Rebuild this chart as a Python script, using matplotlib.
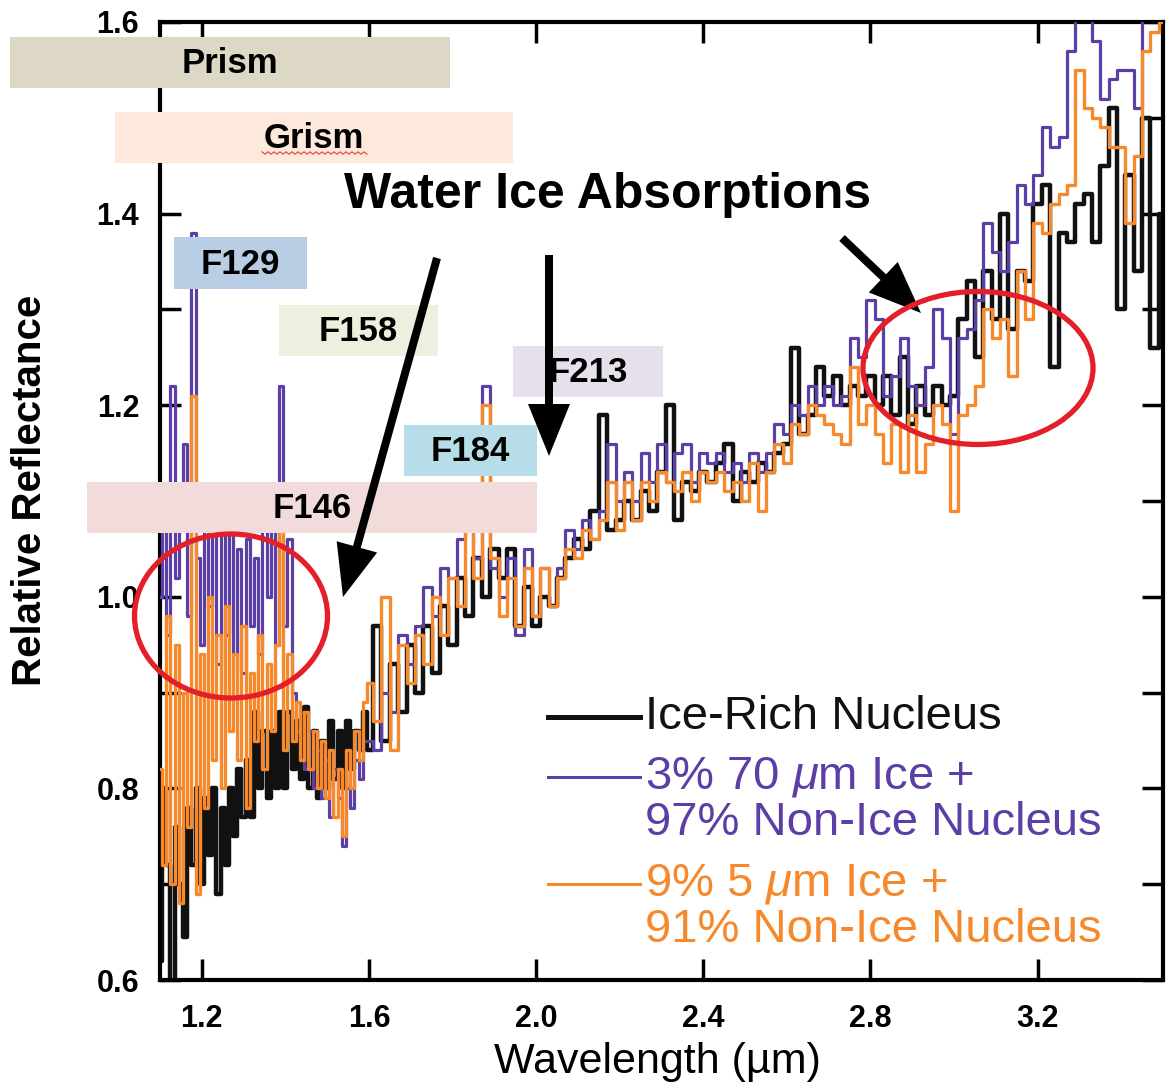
import numpy as np
import matplotlib
matplotlib.use('Agg')
import matplotlib.pyplot as plt
from matplotlib.patches import Rectangle, Ellipse, FancyArrow
from matplotlib.lines import Line2D
from matplotlib.transforms import Affine2D

plt.rcParams['font.family'] = ['Liberation Sans', 'DejaVu Sans']
plt.rcParams['mathtext.fontset'] = 'custom'
plt.rcParams['mathtext.it'] = 'Liberation Sans:italic'
plt.rcParams['mathtext.rm'] = 'Liberation Sans'

W, H = 1175, 1092

# wavelength grid of the spectra (um): 0.01 um bins below 1.6, 0.02 um above
wavelength = np.round(np.concatenate([np.arange(1.10, 1.595, 0.01),
                                      np.arange(1.60, 3.5001, 0.02)]), 2)

ice_rich = [
    # 1.10 - 1.59
    0.62, 0.80, 0.72, 0.58, 0.76, 0.70, 0.645, 0.78, 0.72, 0.80,
    0.70, 0.79, 0.73, 0.80, 0.69, 0.78, 0.72, 0.80, 0.75, 0.82,
    0.77, 0.83, 0.77, 0.88, 0.80, 0.86, 0.79, 0.86, 0.80, 0.88,
    0.80, 0.88, 0.82, 0.87, 0.81, 0.885, 0.80, 0.86, 0.79, 0.85,
    0.80, 0.87, 0.81, 0.86, 0.80, 0.87, 0.82, 0.86, 0.84, 0.88,
    # 1.60 - 3.50
    0.84, 0.97, 0.85, 0.93, 0.88,
    0.95, 0.90, 0.97, 0.92, 0.99, 0.95, 1.02, 0.98, 1.04, 1.00,
    1.05, 1.02, 1.05, 0.97, 1.01, 0.97, 1.00, 0.99, 1.02, 1.04,
    1.06, 1.05, 1.09, 1.19, 1.07, 1.08, 1.10, 1.08, 1.11, 1.09,
    1.13, 1.20, 1.08, 1.12, 1.11, 1.13, 1.12, 1.14, 1.16, 1.10,
    1.13, 1.12, 1.14, 1.13, 1.15, 1.16, 1.26, 1.17, 1.19, 1.24,
    1.21, 1.23, 1.20, 1.22, 1.21, 1.23, 1.20, 1.23, 1.19, 1.25,
    1.18, 1.22, 1.19, 1.22, 1.20, 1.21, 1.29, 1.33, 1.25, 1.34,
    1.29, 1.40, 1.28, 1.34, 1.33, 1.41, 1.43, 1.24, 1.38, 1.37,
    1.41, 1.42, 1.37, 1.45, 1.51, 1.30, 1.44, 1.34, 1.50, 1.26,
    1.40,
]

ice_70um = [
    # 1.10 - 1.59
    1.00, 1.08, 0.96, 1.22, 1.02, 1.10, 1.16, 0.98, 1.38, 1.04,
    0.95, 1.09, 0.99, 1.10, 0.93, 1.07, 0.96, 1.08, 0.94, 1.05,
    0.92, 1.06, 0.97, 1.04, 0.94, 1.08, 1.00, 1.09, 0.95, 1.22,
    0.97, 1.06, 0.90, 0.86, 0.88, 0.82, 0.86, 0.80, 0.84, 0.79,
    0.83, 0.77, 0.82, 0.79, 0.74, 0.80, 0.78, 0.83, 0.81, 0.85,
    # 1.60 - 3.50
    0.85, 0.84, 0.90, 0.88, 0.96,
    0.93, 0.97, 1.01, 0.98, 1.03, 1.02, 1.06, 1.08, 1.04, 1.22,
    1.03, 1.00, 1.04, 0.96, 1.05, 0.98, 1.03, 0.99, 1.03, 1.07,
    1.05, 1.08, 1.06, 1.09, 1.16, 1.10, 1.13, 1.10, 1.15, 1.12,
    1.16, 1.12, 1.15, 1.16, 1.12, 1.15, 1.14, 1.15, 1.13, 1.14,
    1.12, 1.15, 1.13, 1.15, 1.18, 1.17, 1.20, 1.19, 1.22, 1.20,
    1.22, 1.20, 1.21, 1.27, 1.25, 1.31, 1.29, 1.21, 1.23, 1.27,
    1.22, 1.20, 1.24, 1.30, 1.27, 1.17, 1.27, 1.28, 1.31, 1.39,
    1.36, 1.34, 1.37, 1.43, 1.41, 1.44, 1.49, 1.47, 1.48, 1.57,
    1.62, 1.64, 1.58, 1.52, 1.54, 1.55, 1.55, 1.51, 1.63, 1.66,
    1.64,
]

ice_5um = [
    # 1.10 - 1.59
    0.82, 0.72, 0.98, 0.70, 0.95, 0.68, 0.90, 0.76, 1.21, 0.69,
    0.94, 0.78, 1.00, 0.83, 0.96, 0.80, 0.99, 0.86, 0.94, 0.83,
    0.97, 0.78, 0.92, 0.85, 0.96, 0.82, 0.93, 0.86, 0.95, 1.10,
    0.84, 0.94, 0.85, 0.89, 0.83, 0.88, 0.82, 0.86, 0.80, 0.85,
    0.79, 0.84, 0.77, 0.82, 0.75, 0.84, 0.80, 0.86, 0.83, 0.89,
    # 1.60 - 3.50
    0.91, 0.87, 1.00, 0.84, 0.95,
    0.91, 0.96, 0.93, 1.00, 0.96, 1.02, 0.99, 1.10, 1.02, 1.20,
    1.04, 0.98, 1.02, 0.97, 1.03, 0.98, 1.03, 0.99, 1.02, 1.05,
    1.04, 1.07, 1.06, 1.08, 1.12, 1.07, 1.12, 1.08, 1.12, 1.10,
    1.13, 1.12, 1.11, 1.13, 1.10, 1.13, 1.12, 1.13, 1.11, 1.12,
    1.10, 1.14, 1.09, 1.13, 1.16, 1.14, 1.18, 1.17, 1.20, 1.19,
    1.18, 1.17, 1.16, 1.24, 1.18, 1.20, 1.17, 1.14, 1.18, 1.13,
    1.19, 1.13, 1.16, 1.20, 1.18, 1.09, 1.19, 1.20, 1.22, 1.30,
    1.27, 1.29, 1.23, 1.34, 1.29, 1.39, 1.38, 1.41, 1.42, 1.43,
    1.55, 1.51, 1.50, 1.49, 1.47, 1.47, 1.39, 1.46, 1.57, 1.59,
    1.60,
]

series_names = ['Ice-Rich Nucleus',
                '3% 70 $\\mu$m Ice +\n97% Non-Ice Nucleus',
                '9% 5 $\\mu$m Ice +\n91% Non-Ice Nucleus']

band_names = ['Prism', 'Grism', 'F129', 'F158', 'F213', 'F184', 'F146']

black = '#111111'
purple = '#5B3FA6'
orange = '#F5892B'
red = '#E3202A'

fig = plt.figure(figsize=(W / 100, H / 100), dpi=100)
ax = fig.add_axes([160 / W, 1 - 980 / H, (1163 - 160) / W, (980 - 22) / H])

# pixel coordinates of the picture, origin top-left
pix = Affine2D().scale(1 / W, -1 / H).translate(0, 1) + fig.transFigure

ax.plot(wavelength, ice_rich, drawstyle='steps-mid', color=black, lw=3.2, zorder=2)
ax.plot(wavelength, ice_70um, drawstyle='steps-mid', color=purple, lw=2.3, zorder=3)
ax.plot(wavelength, ice_5um, drawstyle='steps-mid', color=orange, lw=2.4, zorder=4)

ax.set_xlim(1.1, 3.5)
ax.set_ylim(0.6, 1.6)
ax.set_xticks([1.2, 1.6, 2.0, 2.4, 2.8, 3.2])
ax.set_yticks([0.6, 0.8, 1.0, 1.2, 1.4, 1.6])
ax.set_yticks([0.7, 0.9, 1.1, 1.3, 1.5], minor=True)
ax.set_xticklabels(['%.1f' % t for t in ax.get_xticks()])
ax.set_yticklabels(['%.1f' % t for t in ax.get_yticks()])
ax.tick_params(which='both', direction='in', top=True, right=True,
               length=15, width=2.5, labelsize=22)
ax.tick_params(axis='x', pad=17)
ax.tick_params(axis='y', pad=15)
for lbl in ax.get_xticklabels() + ax.get_yticklabels():
    lbl.set_fontweight('bold')
for sp in ax.spines.values():
    sp.set_linewidth(3)

fig.text(30 / W, 1 - 490 / H, 'Relative Reflectance', rotation=90,
         fontsize=29, fontweight='bold', ha='center', va='center')
fig.text(657 / W, 1 - 1062 / H, 'Wavelength (\u00b5m)', fontsize=31,
         ha='center', va='center')

# filter / mode boxes, pixel layout (x0, y0, x1, y1)
band_boxes = [(10, 37, 450, 88), (115, 112, 513, 163), (174, 237, 307, 289),
              (279, 305, 438, 356), (513, 346, 663, 397), (404, 425, 537, 476),
              (87, 482, 537, 533)]
band_colors = ['#DDD8C5', '#FCE9DC', '#B9CDE5', '#EBF1DE', '#E6E0EC',
               '#B7DEE8', '#F2DCDB']
for name, (x0, y0, x1, y1), c in zip(band_names, band_boxes, band_colors):
    fig.add_artist(Rectangle((x0, y0), x1 - x0, y1 - y0, transform=pix,
                             facecolor=c, edgecolor='none', zorder=5))
    fig.text((x0 + x1) / 2 / W, 1 - ((y0 + y1) / 2 + 1) / H, name,
             fontsize=25, fontweight='bold', ha='center', va='center', zorder=6)

# spell-check squiggle under "Grism"
sq_x = np.linspace(262, 367, 36)
sq_y = 153 + 1.2 * np.where(np.arange(36) % 2 == 0, -1, 1)
fig.add_artist(Line2D(sq_x, sq_y, transform=pix, color='#E04040', lw=0.8, zorder=6))

fig.text(608 / W, 1 - 195 / H, 'Water Ice Absorptions', fontsize=36,
         fontweight='bold', ha='center', va='center')

# arrows (tail, tip) in pixels
arrows = [((437, 258), (343, 597)), ((549, 255), (549, 456)), ((842, 238), (921, 313))]
for (x0, y0), (x1, y1) in arrows:
    fig.add_artist(FancyArrow(x0, y0, x1 - x0, y1 - y0, width=8, head_width=42,
                              head_length=52, length_includes_head=True,
                              transform=pix, color='black', lw=0, zorder=7))

# red ellipses
fig.add_artist(Ellipse((231, 616), 193, 164, transform=pix, fill=False,
                       edgecolor=red, lw=3.8, zorder=7))
fig.add_artist(Ellipse((978, 368), 230, 153, transform=pix, fill=False,
                       edgecolor=red, lw=3.8, zorder=7))

# legend drawn as in the picture
legend_rows = [(717, black, 3.6), (777, purple, 2.2), (884, orange, 2.2)]
for name, (y, c, lw) in zip(series_names, legend_rows):
    fig.add_artist(Line2D([548, 640], [y, y], transform=pix, color=c, lw=lw))
    fig.text(645 / W, 1 - (y - 22) / H, name, fontsize=34, color=c,
             ha='left', va='top', linespacing=1.05)

fig.savefig('out.png', dpi=100)
